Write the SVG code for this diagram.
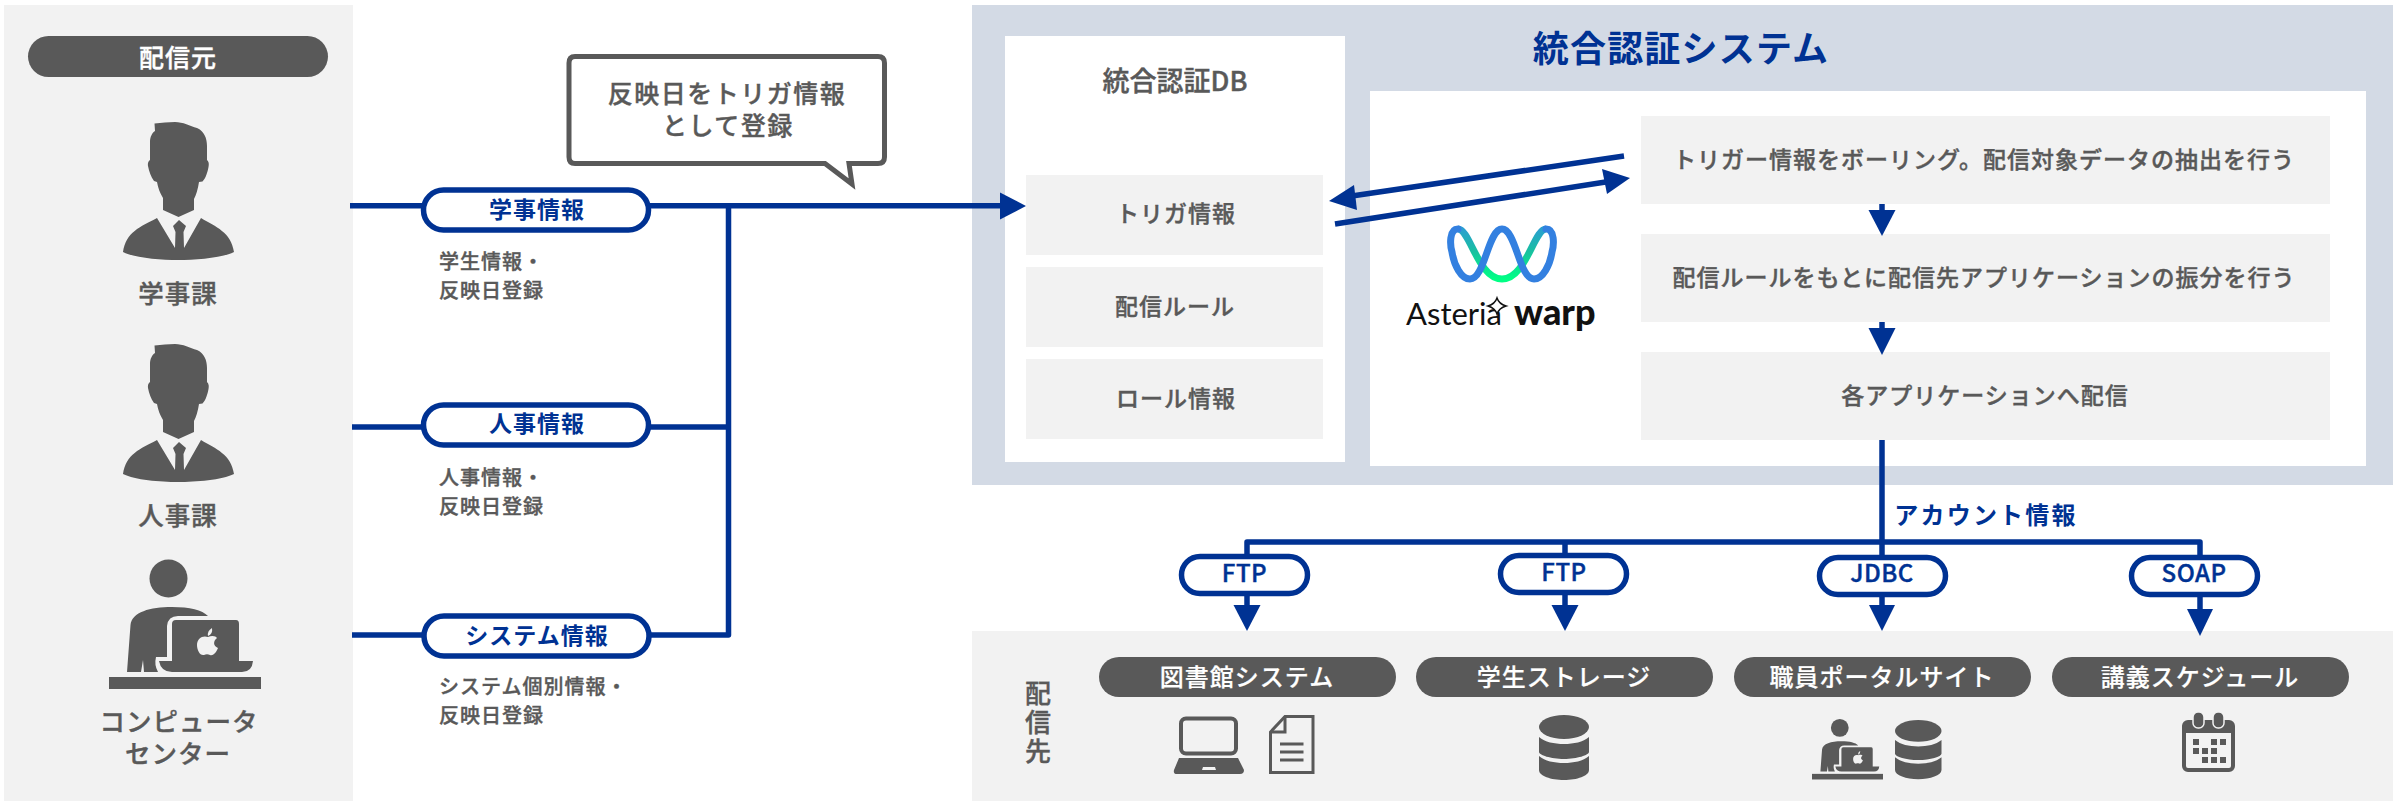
<svg xmlns="http://www.w3.org/2000/svg" xmlns:xlink="http://www.w3.org/1999/xlink" width="2399" height="801" viewBox="0 0 2399 801">
<style>
text{font-family:"Noto Sans CJK JP","Noto Sans",sans-serif;font-weight:500;fill:#595959;text-anchor:middle;stroke:#595959;stroke-width:.4px}
.panel{fill:#f2f2f2}
.slate{fill:#d3dae5}
.white{fill:#fff}
.ico{fill:#595959}
.pill{fill:#595959}
.tag{fill:#fff;stroke:#003293;stroke-width:5.500}
.w{fill:#fff;stroke:#fff;stroke-width:.2px;font-size:24px;letter-spacing:1px}
.b{fill:#003293;stroke:none;font-weight:700;font-size:23px;letter-spacing:1px}
.e{fill:#003293;stroke:#003293;font-size:24px;letter-spacing:.5px}
.g{font-size:23px;letter-spacing:1px}
.s{font-size:20px;letter-spacing:1px;text-anchor:start}
.l{font-size:25.500px;letter-spacing:1px}
.line{fill:none;stroke:#003293;stroke-width:5.500;stroke-linejoin:round}
.head{fill:#003293}
</style>
<defs>
<path id="man" class="ico" fill-rule="evenodd" d="M154.500,123.500C162,123 168,122 175,122C183,122 190,126 197,128C204,131 207,138 207,146L207,160C209,162 209,164 208.500,167C207.500,172 206,178 202.500,181.500L199,182C198,189 196,195 194,199L194,210L178.500,217L163,210L163,198C160,193 158,188 157,182L154,181C151,177 149,171 148,166C147.500,163 148.500,161 150,160L150,142C150,137 152,133 155,131ZM157,218C140,227 126,232 123,252C135,258 160,260 178,260C196,260 222,258 234,252C231,232 216,227 201,218L184,248L183.500,232L186,226L179,220L173,226L175.500,232L175,248Z"/>
<g id="desk">
<circle class="ico" cx="168.500" cy="578.500" r="19"/>
<path class="ico" d="M127,672L130.500,625C132,612 150,607 172,607C190,607 202,610 208,616L178,616Q168,616 167,626L167,657L156,657Q154,665 158,672L144,672L143,660L141,672Z"/>
<path class="ico" d="M172,661L172,624Q172,620 176,620L236,620Q239,620 239,624L239,661L253,661Q252,672 242,672L172,672Q161,672 159,661Z"/>
<path fill="#f2f2f2" d="M212,628Q213,634 208,636Q207,631 212,628ZM208,637C212,635 216,636 217,638C213,641 213,646 218,648C216,653 213,656 210,655C208,654 206,654 204,655C200,656 197,650 197,645C197,638 203,635 208,637Z"/>
<rect class="ico" x="109" y="677" width="152" height="12"/>
</g>
<g id="db" class="ico">
<ellipse cx="25" cy="12" rx="25" ry="12"/>
<path d="M0,22C6,27 15,29 25,29C35,29 44,27 50,22L50,37C50,40 38,44 25,44C12,44 0,40 0,37Z"/>
<path d="M0,41C6,46 15,48 25,48C35,48 44,46 50,41L50,55C50,61 38,65 25,65C12,65 0,61 0,55Z"/>
</g>
<linearGradient id="gr" x1="0" y1="0" x2="0" y2="1"><stop offset="0" stop-color="#2a9fd0"/><stop offset="0.45" stop-color="#18c0a0"/><stop offset="1" stop-color="#00ff85"/></linearGradient>
</defs>

<g id="panels">
<rect class="panel" x="4" y="5" width="349" height="796"/>
<rect class="slate" x="972" y="5" width="1421" height="480"/>
<rect class="panel" x="972" y="631" width="1421" height="170"/>
</g>

<g id="source-header"><rect class="pill" x="28" y="36" width="300" height="41" rx="20.500"/><text class="w" x="178" y="67" style="font-size:25px;stroke-width:.4px">配信元</text></g>
<g id="gakuji"><use xlink:href="#man" href="#man"/><text class="l" x="178" y="303">学事課</text></g>
<g id="jinji"><use xlink:href="#man" href="#man" y="222"/><text class="l" x="178" y="525">人事課</text></g>
<g id="computer-center"><use xlink:href="#desk" href="#desk"/><text class="l"><tspan x="179" y="731">コンピュータ</tspan><tspan x="178" y="763">センター</tspan></text></g>

<g id="db-box">
<rect class="white" x="1005" y="36" width="340" height="426"/>
<text x="1175" y="91" style="font-size:27px">統合認証DB</text>
<rect class="panel" x="1026" y="175" width="297" height="80"/><text class="g" x="1176" y="222">トリガ情報</text>
<rect class="panel" x="1026" y="267" width="297" height="80"/><text class="g" x="1175" y="315">配信ルール</text>
<rect class="panel" x="1026" y="359" width="297" height="80"/><text class="g" x="1176" y="407">ロール情報</text>
</g>
<text id="system-title" x="1681" y="62" style="font-size:36px;font-weight:700;fill:#003293;stroke:none;letter-spacing:1.200px">統合認証システム</text>
<g id="warp-box">
<rect class="white" x="1370" y="91" width="996" height="375"/>
<rect class="panel" x="1641" y="116" width="689" height="88"/><text class="g" x="1984" y="168">トリガー情報をボーリング。配信対象データの抽出を行う</text>
<rect class="panel" x="1641" y="234" width="689" height="88"/><text class="g" x="1984" y="286">配信ルールをもとに配信先アプリケーションの振分を行う</text>
<rect class="panel" x="1641" y="352" width="689" height="88"/><text class="g" x="1985" y="404">各アプリケーションへ配信</text>
</g>
<g id="warp-logo">
<path d="M1458,229C1470,229 1478,279 1502,279C1526,279 1534,229 1546,229" fill="none" stroke="url(#gr)" stroke-width="7"/>
<path d="M1458,229C1449,229 1450,245 1452,252C1454,265 1461,279 1470,279C1485,279 1488,229 1502,229C1516,229 1519,279 1534,279C1543,279 1550,265 1552,252C1554,245 1555,229 1546,229" fill="none" stroke="#3380e0" stroke-width="7" stroke-linecap="round"/>
<text x="1406" y="325" style="font-family:Lato,sans-serif;font-size:31px;font-weight:400;fill:#111;stroke:none;text-anchor:start">Asteria</text>
<path d="M1497,298Q1499,304 1506,306Q1499,308 1497,314Q1495,308 1488,306Q1495,304 1497,298Z" fill="#fff" stroke="#111" stroke-width="1.500"/>
<text x="1514" y="325" style="font-family:Lato,sans-serif;font-size:36px;font-weight:900;fill:#111;stroke:none;text-anchor:start">warp</text>
</g>

<g id="connectors">
<path class="line" d="M350,205.700H1002"/>
<path class="line" d="M352,427H728.500"/>
<path class="line" d="M352,635H728.500V205.700"/>
<path class="head" d="M1026,206L1000,192.500V219.500Z"/>
<path class="line" d="M1624,156L1345,197"/>
<path class="head" d="M1329,201L1354,185L1357,210Z"/>
<path class="line" d="M1335,224L1612,181"/>
<path class="head" d="M1630,178L1602,169L1607,194Z"/>
<path class="line" d="M1882,204V212"/><path class="head" d="M1882,236L1868.500,210H1895.500Z"/>
<path class="line" d="M1882,322V330"/><path class="head" d="M1882,355L1868.500,328H1895.500Z"/>
<path class="line" d="M1882,440V610"/>
<path class="line" d="M1247,556V542H2200V556"/>
<path class="line" d="M1565,542V607"/>
<path class="line" d="M1247,594V607"/><path class="head" d="M1247,631L1233.500,605H1260.500Z"/>
<path class="head" d="M1565,631L1551.500,605H1578.500Z"/>
<path class="head" d="M1882,631L1869,605H1895Z"/>
<path class="line" d="M2200,594V611"/><path class="head" d="M2200,636L2187,609H2213Z"/>
</g>
<text id="account-label" class="b" x="1986" y="524" style="font-size:24px;letter-spacing:2.200px">アカウント情報</text>

<g id="callout"><path d="M575,56.500H878Q884.500,56.500 884.500,63V157Q884.500,163.500 878,163.500H849L852,184L825,163.500H575Q569,163.500 569,157V63Q569,56.500 575,56.500Z" fill="#fff" stroke="#595959" stroke-width="5"/>
<text x="727" y="103" style="font-size:25px;letter-spacing:1.500px">反映日をトリガ情報</text><text x="728" y="135" style="font-size:25px;letter-spacing:1.500px">として登録</text></g>

<g id="tag-gakuji"><rect class="tag" x="423.500" y="190" width="225" height="40" rx="20"/><text class="b" x="537" y="218">学事情報</text><text class="s" x="439" y="269">学生情報・</text><text class="s" x="439" y="298">反映日登録</text></g>
<g id="tag-jinji"><rect class="tag" x="423.500" y="405" width="225" height="40" rx="20"/><text class="b" x="537" y="432">人事情報</text><text class="s" x="439" y="485">人事情報・</text><text class="s" x="439" y="514">反映日登録</text></g>
<g id="tag-system"><rect class="tag" x="424" y="616" width="225" height="40" rx="20"/><text class="b" x="537" y="644">システム情報</text><text class="s" x="439" y="694">システム個別情報・</text><text class="s" x="439" y="723">反映日登録</text></g>

<g id="tag-ftp1"><rect class="tag" x="1181.500" y="556.500" width="126" height="37" rx="18.500"/><text class="e" x="1244.500" y="582">FTP</text></g>
<g id="tag-ftp2"><rect class="tag" x="1500.500" y="555.500" width="126" height="37" rx="18.500"/><text class="e" x="1564" y="581">FTP</text></g>
<g id="tag-jdbc"><rect class="tag" x="1819.500" y="557.500" width="126" height="37" rx="18.500"/><text class="e" x="1882" y="582">JDBC</text></g>
<g id="tag-soap"><rect class="tag" x="2131.500" y="557.500" width="126" height="37" rx="18.500"/><text class="e" x="2194" y="582">SOAP</text></g>

<text id="dest-label" x="1038" y="680" style="font-size:26px;letter-spacing:3px;writing-mode:vertical-rl;text-anchor:start">配信先</text>

<g id="library"><rect class="pill" x="1099" y="657" width="297" height="40" rx="20"/><text class="w" x="1247" y="686">図書館システム</text>
<rect x="1181" y="718.500" width="55" height="35" rx="5" fill="none" stroke="#595959" stroke-width="4"/>
<path class="ico" fill-rule="evenodd" d="M1179,758H1238L1244,770Q1244,774 1240,774H1177Q1173,774 1174,770ZM1203,767L1202,770H1216L1215,767Z"/>
<path d="M1285,716.500H1313V772.500H1270.500V732Z" fill="none" stroke="#595959" stroke-width="3"/>
<path d="M1285,716.500V732H1270.500" fill="none" stroke="#595959" stroke-width="3"/>
<path d="M1280,744H1303.500M1280,752H1303.500M1280,760H1303.500" stroke="#595959" stroke-width="3"/></g>
<g id="student-storage"><rect class="pill" x="1416" y="657" width="297" height="40" rx="20"/><text class="w" x="1564" y="686">学生ストレージ</text><use xlink:href="#db" href="#db" x="1539" y="715"/></g>
<g id="staff-portal"><rect class="pill" x="1734" y="657" width="297" height="40" rx="20"/><text class="w" x="1882" y="686">職員ポータルサイト</text>
<use xlink:href="#desk" href="#desk" transform="translate(1812,719) scale(0.467) translate(-109,-559.500)"/><use xlink:href="#db" href="#db" transform="translate(1895,720) scale(0.93,0.91)"/></g>
<g id="lecture-schedule"><rect class="pill" x="2052" y="657" width="297" height="40" rx="20"/><text class="w" x="2200" y="686">講義スケジュール</text>
<rect x="2184" y="722" width="49" height="48" rx="4" fill="#f2f2f2" stroke="#595959" stroke-width="4"/>
<path class="ico" d="M2184,722H2233V733H2184Z"/>
<rect x="2193" y="712" width="11" height="16" rx="5" fill="#595959" stroke="#f2f2f2" stroke-width="1.500"/>
<rect x="2213" y="712" width="11" height="16" rx="5" fill="#595959" stroke="#f2f2f2" stroke-width="1.500"/>
<path class="ico" d="M2193,739h6v6h-6zM2211,739h6v6h-6zM2220,739h6v6h-6zM2193,748h6v6h-6zM2202,748h6v6h-6zM2211,748h6v6h-6zM2202,757h6v6h-6zM2211,757h6v6h-6zM2220,757h6v6h-6z"/></g>
</svg>
